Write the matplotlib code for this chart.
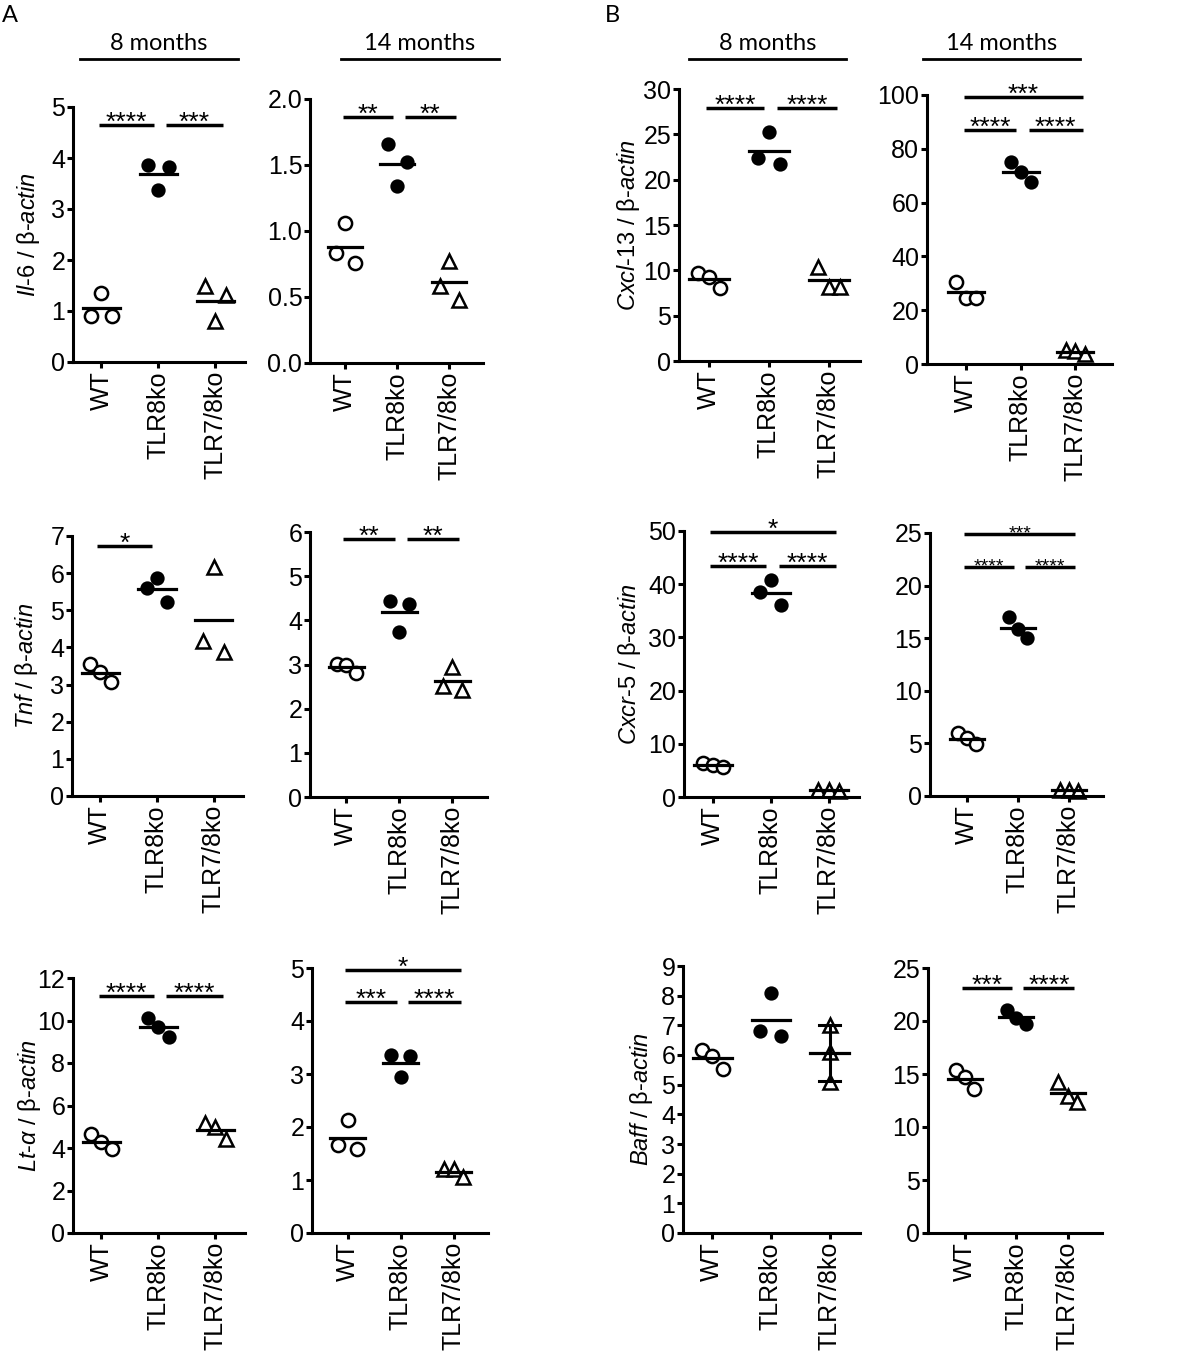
import numpy as np
import matplotlib
matplotlib.use("Agg")
import matplotlib.pyplot as plt
from matplotlib.lines import Line2D
from matplotlib.ticker import FormatStrFormatter, MultipleLocator

matplotlib.rcParams['font.family'] = ['Liberation Sans', 'DejaVu Sans']
matplotlib.rcParams['mathtext.fontset'] = 'custom'
matplotlib.rcParams['mathtext.rm'] = 'Liberation Sans'
matplotlib.rcParams['mathtext.it'] = 'Liberation Sans:italic'

groups = ["WT", "TLR8ko", "TLR7/8ko"]

# each panel: one list per group, dots listed left to right as in the figure
il6_8m = [[0.90, 1.36, 0.90], [3.87, 3.37, 3.83], [1.49, 0.81, 1.31]]
il6_14m = [[0.83, 1.06, 0.755], [1.66, 1.34, 1.52], [0.58, 0.77, 0.48]]
cxcl13_8m = [[9.74, 9.30, 8.02], [22.34, 25.28, 21.70], [10.4, 8.2, 8.2]]
cxcl13_14m = [[30.6, 24.7, 24.7], [75.0, 71.5, 67.5], [5.2, 4.8, 3.8]]
tnf_8m = [[3.55, 3.33, 3.06], [5.61, 5.86, 5.23], [4.16, 6.16, 3.89]]
tnf_14m = [[3.01, 2.99, 2.80], [4.44, 3.74, 4.37], [2.51, 2.94, 2.43]]
cxcr5_8m = [[6.3, 6.0, 5.6], [38.5, 40.8, 36.0], [1.4, 1.3, 1.2]]
cxcr5_14m = [[5.96, 5.48, 4.94], [17.04, 15.9, 15.0], [0.6, 0.55, 0.5]]
lta_8m = [[4.64, 4.30, 3.94], [10.13, 9.68, 9.24], [5.19, 5.00, 4.42]]
lta_14m = [[1.66, 2.14, 1.59], [3.36, 2.94, 3.34], [1.20, 1.20, 1.05]]
baff_8m = [[6.17, 5.97, 5.54], [6.82, 8.10, 6.64], [7.0, 6.1, 5.1]]
baff_14m = [[15.38, 14.75, 13.56], [21.04, 20.25, 19.72], [14.2, 12.9, 12.39]]

# significance: (group i, group j, bar height, label)
il6_8m_sig = [(0, 1, 4.65, "****"), (1, 2, 4.65, "***")]
il6_14m_sig = [(0, 1, 1.86, "**"), (1, 2, 1.86, "**")]
cxcl13_8m_sig = [(0, 1, 27.86, "****"), (1, 2, 27.86, "****")]
cxcl13_14m_sig = [(0, 1, 87.0, "****"), (1, 2, 87.0, "****"), (0, 2, 99.1, "***")]
tnf_8m_sig = [(0, 1, 6.73, "*")]
tnf_14m_sig = [(0, 1, 5.84, "**"), (1, 2, 5.84, "**")]
cxcr5_8m_sig = [(0, 1, 43.4, "****"), (1, 2, 43.4, "****"), (0, 2, 49.8, "*")]
cxcr5_14m_sig = [(0, 1, 21.8, "****"), (1, 2, 21.8, "****"), (0, 2, 24.9, "***")]
lta_8m_sig = [(0, 1, 11.14, "****"), (1, 2, 11.14, "****")]
lta_14m_sig = [(0, 1, 4.36, "***"), (1, 2, 4.36, "****"), (0, 2, 4.96, "*")]
baff_8m_sig = []
baff_14m_sig = [(0, 1, 23.1, "***"), (1, 2, 23.1, "****")]

ylabels = {
    "il6": r"$\mathit{Il}$-$\mathit{6}$ / β-$\mathit{actin}$",
    "cxcl13": r"$\mathit{Cxcl}$-$\mathit{13}$ / β-$\mathit{actin}$",
    "tnf": r"$\mathit{Tnf}$ / β-$\mathit{actin}$",
    "cxcr5": r"$\mathit{Cxcr}$-$\mathit{5}$ / β-$\mathit{actin}$",
    "lta": r"$\mathit{Lt}$-$\mathit{\alpha}$ / β-$\mathit{actin}$",
    "baff": r"$\mathit{Baff}$ / β-$\mathit{actin}$",
}

W, H = 1182, 1356
fig = plt.figure(figsize=(W / 100, H / 100), dpi=100)


def rect(l, t, r, b):
    return [l / W, 1 - b / H, (r - l) / W, (b - t) / H]


def draw_panel(box, xlim, data, sig, ymax, ystep, ylabel=None, lab_dx=31,
               star_size=19, decimals=False, err_group=None):
    ax = fig.add_axes(rect(*box))
    marker = ['o', 'o', '^']
    face = ['white', 'black', 'white']
    msize = [9.5, 8.5, 10]
    for g, vals in enumerate(data):
        vals = np.array(vals)
        if g == err_group:
            xs = np.full(len(vals), float(g))
        else:
            xs = g + np.array([-0.18, 0.0, 0.18])
        ax.plot(xs, vals, linestyle='none', marker=marker[g], ms=msize[g],
                mfc=face[g], mec='black', mew=1.8, zorder=2, clip_on=False)
        m = vals.mean()
        ax.plot([g - 0.33, g + 0.33], [m, m], color='black', lw=2.3, zorder=3)
        if g == err_group:
            sd = vals.std(ddof=1)
            ax.plot([g, g], [m - sd, m + sd], color='black', lw=2.2, zorder=3)
            for yv in (m - sd, m + sd):
                ax.plot([g - 0.18, g + 0.18], [yv, yv], color='black', lw=2.2, zorder=3)
    for i, j, yb, txt in sig:
        if j - i == 2:
            x0, x1 = i - 0.05, j + 0.13
        elif i == 0:
            x0, x1 = i - 0.05, j - 0.08
        else:
            x0, x1 = i + 0.14, j + 0.13
        ax.plot([x0, x1], [yb, yb], color='black', lw=2.5, clip_on=False,
                solid_capstyle='butt')
        ax.annotate(txt, ((x0 + x1) / 2, yb), xytext=(0, -3.5),
                    textcoords='offset points', ha='center', va='baseline',
                    fontsize=star_size, annotation_clip=False)
    ax.set_xlim(*xlim)
    ax.set_ylim(0, ymax)
    ax.yaxis.set_major_locator(MultipleLocator(ystep))
    if decimals:
        ax.yaxis.set_major_formatter(FormatStrFormatter('%.1f'))
    ax.set_xticks(range(3))
    ax.set_xticklabels(groups, rotation=90, fontsize=18)
    for s in ('top', 'right'):
        ax.spines[s].set_visible(False)
    for s in ('left', 'bottom'):
        ax.spines[s].set_linewidth(2.2)
    ax.tick_params(axis='both', width=2.2, length=4.5, labelsize=18, pad=2)
    ax.tick_params(axis='y', pad=1)
    if ylabel:
        ax.set_ylabel(ylabel, fontsize=17)
        ax.yaxis.set_label_coords(-lab_dx / (box[2] - box[0]), 0.5)
    return ax


xl = [(-0.5, 2.52), (-0.68, 2.65), (-0.5, 2.52), (-0.72, 2.67)]

draw_panel((73, 107, 245, 362), xl[0], il6_8m, il6_8m_sig, 5, 1, ylabels["il6"], 31)
draw_panel((310, 99, 483, 363), xl[1], il6_14m, il6_14m_sig, 2.0, 0.5, decimals=True)
draw_panel((679, 89, 860, 361), xl[2], cxcl13_8m, cxcl13_8m_sig, 30, 5, ylabels["cxcl13"], 37)
draw_panel((927, 95, 1112, 364), xl[3], cxcl13_14m, cxcl13_14m_sig, 100, 20)

draw_panel((72, 536, 243, 796), xl[0], tnf_8m, tnf_8m_sig, 7, 1, ylabels["tnf"], 32)
draw_panel((310, 532, 487, 797), xl[1], tnf_14m, tnf_14m_sig, 6, 1)
draw_panel((684, 531, 859, 797), xl[2], cxcr5_8m, cxcr5_8m_sig, 50, 10, ylabels["cxcr5"], 41)
draw_panel((930, 533, 1103, 796), xl[3], cxcr5_14m, cxcr5_14m_sig, 25, 5, star_size=14)

draw_panel((73, 978, 245, 1233), xl[0], lta_8m, lta_8m_sig, 12, 2, ylabels["lta"], 30)
draw_panel((312, 968, 488, 1233), xl[1], lta_14m, lta_14m_sig, 5, 1)
draw_panel((683, 966, 860, 1233), xl[2], baff_8m, baff_8m_sig, 9, 1, ylabels["baff"], 28,
           err_group=2)
draw_panel((928, 968, 1102, 1233), xl[3], baff_14m, baff_14m_sig, 25, 5)

# age headers over the top row
headers = [("8 months", 80, 238), ("14 months", 341, 499),
           ("8 months", 689, 846), ("14 months", 923, 1080)]
for txt, x0, x1 in headers:
    fig.text((x0 + x1) / 2 / W, 1 - 43 / H, txt, ha='center', va='center',
             fontsize=17, family='Lato')
    fig.add_artist(Line2D([x0 / W, x1 / W], [1 - 59 / H, 1 - 59 / H],
                          color='black', lw=2))

fig.text(10 / W, 1 - 16 / H, "A", ha='center', va='center', fontsize=17, family='Lato')
fig.text(612 / W, 1 - 16 / H, "B", ha='center', va='center', fontsize=17, family='Lato')

fig.savefig("out.png", dpi=100)
